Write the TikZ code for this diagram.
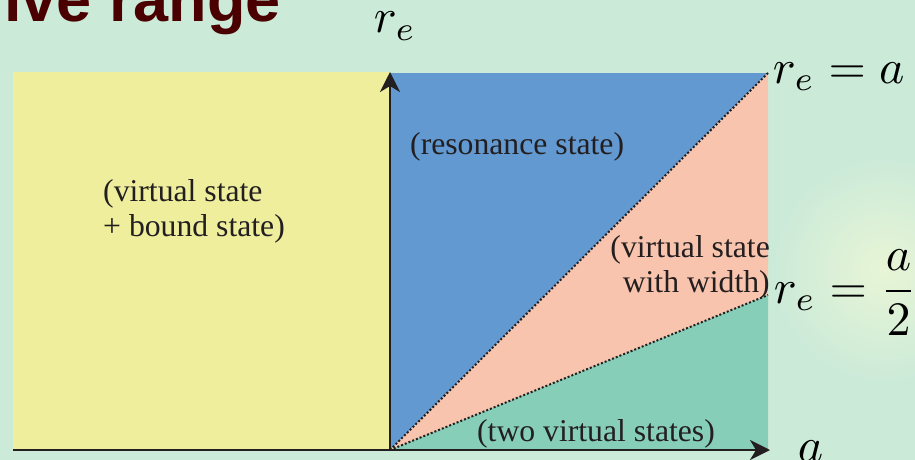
\documentclass[tikz,border=0pt]{standalone}
\usepackage{fontspec}
\newfontfamily\txtfont{Liberation Serif}
\newfontfamily\titlefont{Liberation Sans}
\usetikzlibrary{arrows.meta}
\definecolor{bgc}{RGB}{203,234,216}
\definecolor{glow}{RGB}{232,245,214}
\definecolor{yel}{RGB}{239,238,157}
\definecolor{blu}{RGB}{97,153,208}
\definecolor{pnk}{RGB}{249,196,173}
\definecolor{grn}{RGB}{134,206,183}
\definecolor{ink}{RGB}{35,31,32}
\definecolor{titlered}{RGB}{74,0,0}
\tikzset{
  region label/.style={font=\txtfont\fontsize{31.7}{35}\selectfont, text=ink, inner sep=0pt},
  math label/.style={font=\normalsize, scale=4.8, text=black, inner sep=0pt},
  axis/.style={line width=2.6pt, draw=ink, -{Stealth[length=20pt,width=20pt,inset=6pt]}},
  boundary/.style={line width=2pt, draw=ink, dotted},
}
\begin{document}
\begin{tikzpicture}[x=1pt,y=-1pt]
\useasboundingbox (0,0) rectangle (915,460);
\clip (0,0) rectangle (915,460);
\fill[bgc] (0,0) rectangle (915,460);
\shade[inner color=glow, outer color=bgc] (885,270) circle (115);

\coordinate (o) at (390,450);
\coordinate (top) at (390,72);
\coordinate (tr) at (768,73);
\coordinate (mr) at (768,295);
\coordinate (br) at (768,450);
\coordinate (left) at (13,450);
\coordinate (xend) at (770,450);

% regions
\fill[yel] (13,72) rectangle (o);
\fill[blu] (o) -- (390,73) -- (tr) -- cycle;
\fill[pnk] (o) -- (tr) -- (mr) -- cycle;
\fill[grn] (o) -- (mr) -- (br) -- cycle;

% boundaries
\draw[boundary] (o) -- (tr);
\draw[boundary] (o) -- (mr);

% axes
\draw[axis] (left) -- (xend);
\draw[axis] (o) -- (top);

% title
\node[anchor=base west, inner sep=0pt, font=\titlefont\bfseries\fontsize{63}{63}\selectfont, text=titlered] (title) at (4,22) {ive range};

% region labels
\node[region label, anchor=west] (res) at (410,147) {(resonance state)};
\node[region label, anchor=west, align=left] (vb) at (103,211) {(virtual state\\+ bound state)};
\node[region label, anchor=east, align=right] (vw) at (770,267) {(virtual state\\with width)};
\node[region label] (two) at (596,434) {(two virtual states)};

% math labels
\node[math label, anchor=base west] (re) at (373,33) {$r_e$};
\node[math label, anchor=base west] (rea) at (772,83) {$r_e = a$};
\node[math label, anchor=base west] (rea2) at (773,303) {$r_e = \displaystyle\frac{a}{2}$};
\node[math label, anchor=base west] (ax) at (797,461) {$a$};
\end{tikzpicture}
\end{document}
